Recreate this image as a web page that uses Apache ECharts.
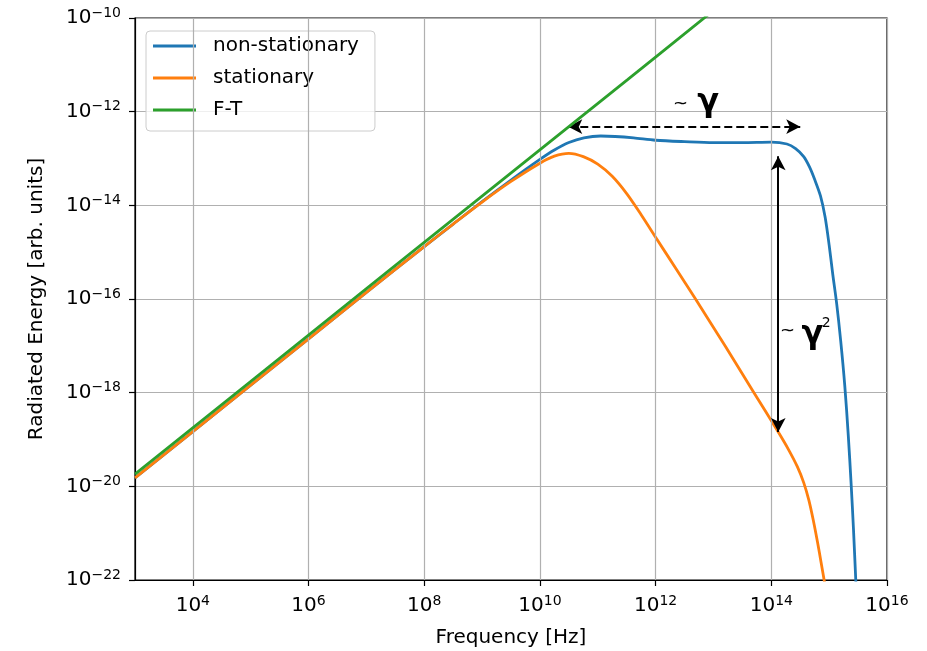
<!DOCTYPE html>
<html><head><meta charset="utf-8">
<script src="https://cdn.jsdelivr.net/npm/echarts@6/dist/echarts.min.js"></script>
<style>html,body{margin:0;padding:0;background:#fff}#c{width:927px;height:651px}</style>
</head><body><div id="c"></div>
<script>
// all values are log10: x = log10(frequency [Hz]), y = log10(radiated energy [arb. units])
const seriesNames = ['non-stationary', 'stationary', 'F-T'];
const seriesColors = ['#1f77b4', '#ff7f0e', '#2ca02c'];

const nonStatLogF = [3, 5, 7, 8, 8.5, 9, 9.5, 10, 10.25, 10.5, 10.76, 11.05, 11.3, 11.62, 12.0, 12.5, 13.0, 13.5, 14.0, 14.27, 14.42, 14.56, 14.66, 14.75, 14.85, 14.93, 15.0, 15.06, 15.13, 15.2, 15.27, 15.33, 15.38, 15.42, 15.46, 15.49];
const nonStatLogE = [-19.82, -17.84, -15.86, -14.88, -14.40, -13.92, -13.46, -13.02, -12.82, -12.66, -12.56, -12.52, -12.53, -12.56, -12.61, -12.64, -12.66, -12.66, -12.65, -12.69, -12.79, -12.96, -13.18, -13.45, -13.8, -14.25, -14.85, -15.45, -16.1, -16.9, -17.85, -18.9, -19.95, -20.9, -22.0, -22.8];

const statLogF = [3, 5, 7, 8, 8.5, 9, 9.5, 10, 10.25, 10.5, 10.75, 11.0, 11.25, 11.5, 11.75, 12.0, 12.35, 12.69, 13.2, 13.7, 14.12, 14.3, 14.45, 14.56, 14.65, 14.73, 14.8, 14.86, 14.92, 14.97];
const statLogE = [-19.82, -17.84, -15.86, -14.88, -14.40, -13.93, -13.49, -13.10, -12.95, -12.89, -12.96, -13.12, -13.38, -13.75, -14.2, -14.68, -15.35, -16.0, -17.0, -18.0, -18.84, -19.22, -19.58, -19.92, -20.3, -20.75, -21.2, -21.62, -22.05, -22.4];

const ftLogF = [3, 6, 8.8, 11.51, 13];
const ftLogE = [-19.74, -16.77, -14.0, -11.32, -9.84];

const xTickExps = [4, 6, 8, 10, 12, 14, 16];
const yTickExps = [-22, -20, -18, -16, -14, -12, -10];

// annotation arrows (data coordinates)
const gammaArrowY = -12.32, gammaArrowX = [10.49, 14.5];
const gamma2ArrowX = 14.12, gamma2ArrowY = [-12.95, -18.84];

const zip = (a, b) => a.map((v, i) => [v, b[i]]);
const sup = v => '{b|10}{s|' + String(v).replace('-', '\u2212') + '}';
const FONT = 'DejaVu Sans';
const rich = {
  b: {fontSize: 20, fontFamily: FONT, color: '#000', lineHeight: 24},
  s: {fontSize: 14, fontFamily: FONT, color: '#000', lineHeight: 14, verticalAlign: 'top'}
};

const chart = echarts.init(document.getElementById('c'), null, {renderer: 'canvas'});
const lineSeries = [zip(nonStatLogF, nonStatLogE), zip(statLogF, statLogE), zip(ftLogF, ftLogE)].map((d, i) => ({
  name: seriesNames[i], type: 'line', data: d, showSymbol: false, smooth: 0.3,
  lineStyle: {color: seriesColors[i], width: 2.8}, itemStyle: {color: seriesColors[i]},
  z: 3 + i, clip: true
}));

chart.setOption({
  animation: false,
  grid: {left: 135, right: 40, top: 18, bottom: 71, outerBoundsMode: 'none', containLabel: false,
    show: true, borderColor: '#000', borderWidth: 1.2, backgroundColor: '#fff'},
  xAxis: {
    type: 'value', min: 3, max: 16, interval: 1,
    name: 'Frequency [Hz]', nameLocation: 'middle', nameGap: 48,
    nameTextStyle: {fontSize: 20, fontFamily: FONT, color: '#000'},
    axisLine: {lineStyle: {color: '#000', width: 1.2}},
    axisTick: {length: 6, lineStyle: {color: '#000', width: 1.2}, customValues: xTickExps},
    axisLabel: {customValues: xTickExps, formatter: v => sup(v), rich: rich, margin: 14},
    splitLine: {show: false}
  },
  yAxis: {
    type: 'value', min: -22, max: -10, interval: 2,
    name: 'Radiated Energy [arb. units]', nameLocation: 'middle', nameGap: 88,
    nameTextStyle: {fontSize: 20, fontFamily: FONT, color: '#000'},
    axisLine: {lineStyle: {color: '#000', width: 1.2}},
    axisTick: {length: 6, lineStyle: {color: '#000', width: 1.2}},
    axisLabel: {formatter: v => sup(v), rich: rich, margin: 14},
    splitLine: {show: true, lineStyle: {color: '#b0b0b0', width: 1.2}}
  },
  legend: {
    data: seriesNames, orient: 'vertical', left: 146, top: 31,
    icon: 'rect', itemWidth: 43, itemHeight: 3, itemGap: 12,
    padding: [5, 16, 11, 7],
    backgroundColor: 'rgba(255,255,255,0.8)', borderColor: '#cccccc', borderWidth: 1, borderRadius: 4,
    textStyle: {fontSize: 20, fontFamily: FONT, color: '#000', lineHeight: 20, padding: [0, 0, 0, 12]},
    selectedMode: false
  },
  series: [
    {
      name: 'xgrid', type: 'line', data: [], z: 1, silent: true,
      markLine: {
        silent: true, symbol: ['none', 'none'], label: {show: false},
        lineStyle: {color: '#b0b0b0', width: 1.2, type: 'solid'},
        emphasis: {disabled: true},
        data: xTickExps.map(v => ({xAxis: v}))
      }
    },
    ...lineSeries,
    {
      name: 'annot', type: 'line', data: [], z: 10, silent: true,
      markLine: {
        silent: true, label: {show: false}, emphasis: {disabled: true},
        symbol: ['arrow', 'arrow'], symbolSize: [11, 14],
        data: [
          [{coord: [gammaArrowX[0], gammaArrowY], lineStyle: {type: [8, 4], color: '#000', width: 2}},
           {coord: [gammaArrowX[1], gammaArrowY]}],
          [{coord: [gamma2ArrowX, gamma2ArrowY[0]], lineStyle: {type: 'solid', color: '#000', width: 2}},
           {coord: [gamma2ArrowX, gamma2ArrowY[1]]}]
        ]
      }
    }
  ]
});

// annotation texts (data coordinates)
const annTexts = [
  {t: '~', at: [12.43, -11.84], size: 18, weight: 'normal'},
  {t: '\u03b3', at: [12.91, -11.8], size: 32, weight: 'bold'},
  {t: '~', at: [14.28, -16.68], size: 18, weight: 'normal'},
  {t: '\u03b3', at: [14.71, -16.76], size: 32, weight: 'bold'},
  {t: '2', at: [14.95, -16.52], size: 14, weight: 'normal'}
];
chart.setOption({
  graphic: annTexts.map(a => {
    const p = chart.convertToPixel({gridIndex: 0}, a.at);
    return {type: 'text', x: p[0], y: p[1], z: 100, silent: true,
      style: {text: a.t, fontSize: a.size, fontWeight: a.weight, fontFamily: FONT, fill: '#000', align: 'center', verticalAlign: 'middle'}};
  })
});
</script></body></html>
